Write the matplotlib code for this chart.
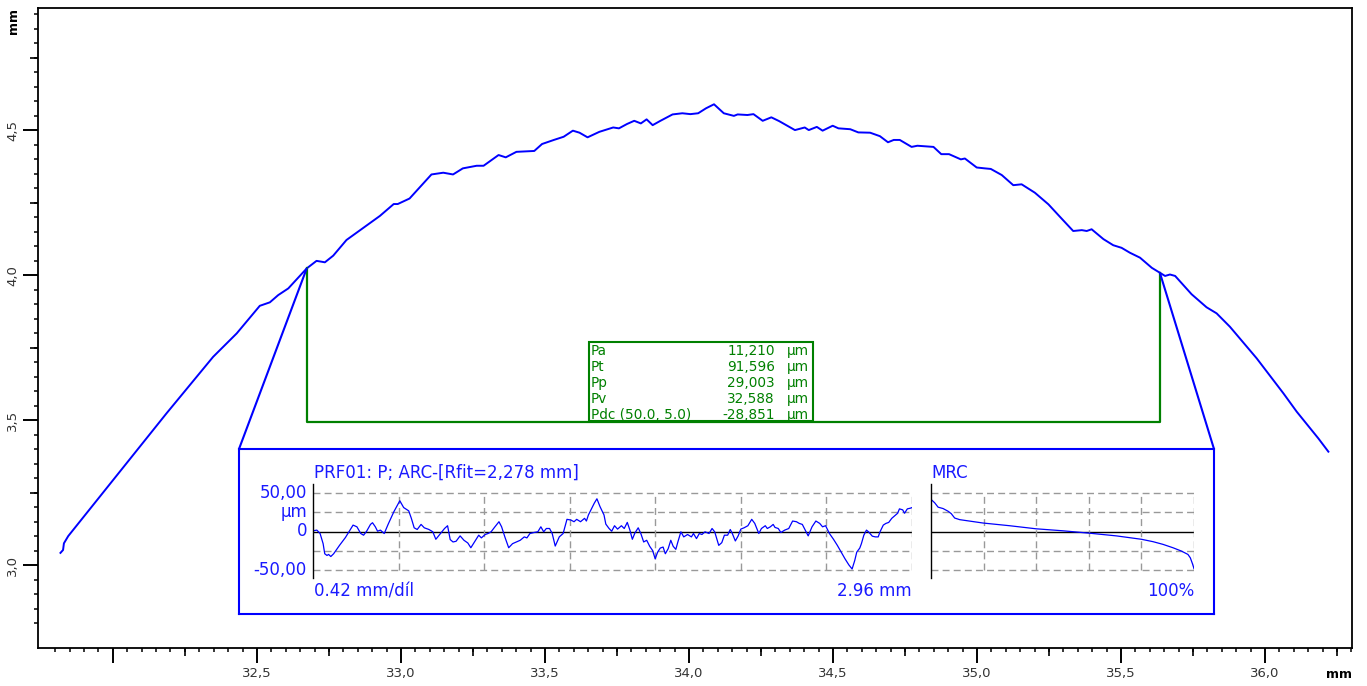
import matplotlib
matplotlib.use("Agg")
import matplotlib.pyplot as plt
from matplotlib.patches import ConnectionPatch, Rectangle
from matplotlib.ticker import FixedLocator, FuncFormatter
import numpy as np

BLUE = "#0000ff"
TXT_BLUE = "#1a1aff"
GREEN = "#008000"
GRID = "#999999"

# primary profile, mm
prof_x = [31.818, 31.827, 31.830, 31.845, 32.186, 32.348, 32.430, 32.510, 32.545, 32.574,
          32.609, 32.673, 32.707, 32.725, 32.736, 32.765, 32.811, 32.927, 32.975, 32.989,
          33.030, 33.106, 33.147, 33.181, 33.215, 33.263, 33.287, 33.339, 33.364, 33.401,
          33.463, 33.490, 33.531, 33.565, 33.597, 33.620, 33.648, 33.689, 33.737, 33.757,
          33.785, 33.810, 33.833, 33.853, 33.874, 33.901, 33.943, 33.977, 34.005, 34.032,
          34.059, 34.087, 34.121, 34.156, 34.169, 34.203, 34.224, 34.256, 34.286, 34.313,
          34.368, 34.402, 34.416, 34.444, 34.464, 34.499, 34.519, 34.560, 34.588, 34.629,
          34.663, 34.691, 34.711, 34.732, 34.773, 34.793, 34.849, 34.876, 34.903, 34.944,
          34.958, 34.999, 35.027, 35.048, 35.086, 35.126, 35.155, 35.201, 35.248, 35.288,
          35.334, 35.364, 35.381, 35.398, 35.439, 35.473, 35.502, 35.531, 35.566, 35.607,
          35.635, 35.653, 35.670, 35.688, 35.745, 35.797, 35.832, 35.878, 35.971, 36.064,
          36.110, 36.185, 36.220]
prof_y = [3.042, 3.052, 3.075, 3.100, 3.523, 3.718, 3.799, 3.894, 3.906, 3.931,
          3.954, 4.023, 4.049, 4.046, 4.044, 4.067, 4.121, 4.204, 4.245, 4.245,
          4.264, 4.347, 4.353, 4.347, 4.368, 4.377, 4.377, 4.414, 4.406, 4.425,
          4.428, 4.452, 4.466, 4.477, 4.498, 4.491, 4.475, 4.494, 4.509, 4.506,
          4.521, 4.532, 4.523, 4.537, 4.517, 4.532, 4.554, 4.558, 4.555, 4.558,
          4.575, 4.589, 4.558, 4.549, 4.554, 4.552, 4.555, 4.532, 4.544, 4.531,
          4.500, 4.509, 4.500, 4.511, 4.498, 4.515, 4.506, 4.503, 4.492, 4.491,
          4.479, 4.458, 4.466, 4.466, 4.442, 4.446, 4.442, 4.417, 4.417, 4.399,
          4.402, 4.371, 4.368, 4.366, 4.345, 4.310, 4.313, 4.284, 4.244, 4.201,
          4.152, 4.155, 4.152, 4.158, 4.124, 4.103, 4.094, 4.077, 4.060, 4.025,
          4.008, 3.997, 4.002, 3.997, 3.934, 3.889, 3.868, 3.822, 3.713, 3.592,
          3.529, 3.437, 3.391]

# evaluation window (green)
eval_x = [32.673, 32.673, 35.635, 35.635]
eval_y = [4.023, 3.495, 3.495, 4.008]

par_names = ["Pa", "Pt", "Pp", "Pv", "Pdc (50.0, 5.0)"]
par_values = ["11,210", "91,596", "29,003", "32,588", "-28,851"]
par_unit = "µm"

# filtered profile in the inset: mm / µm
rough_x = [0.000, 0.019, 0.035, 0.050, 0.058, 0.069, 0.077, 0.088, 0.102, 0.131,
           0.160, 0.188, 0.198, 0.217, 0.236, 0.250, 0.265, 0.284, 0.294, 0.308,
           0.319, 0.333, 0.352, 0.371, 0.400, 0.429, 0.448, 0.473, 0.486, 0.500,
           0.515, 0.534, 0.550, 0.573, 0.592, 0.607, 0.630, 0.650, 0.665, 0.678,
           0.692, 0.707, 0.727, 0.746, 0.765, 0.780, 0.800, 0.819, 0.832, 0.851,
           0.865, 0.880, 0.899, 0.919, 0.932, 0.948, 0.967, 0.986, 1.005, 1.024,
           1.044, 1.057, 1.072, 1.092, 1.111, 1.126, 1.140, 1.153, 1.169, 1.182,
           1.197, 1.217, 1.236, 1.255, 1.274, 1.290, 1.303, 1.322, 1.342, 1.351,
           1.361, 1.376, 1.390, 1.403, 1.418, 1.438, 1.447, 1.463, 1.476, 1.490,
           1.505, 1.524, 1.538, 1.553, 1.566, 1.578, 1.591, 1.607, 1.620, 1.634,
           1.649, 1.664, 1.678, 1.691, 1.703, 1.716, 1.730, 1.741, 1.755, 1.768,
           1.780, 1.793, 1.803, 1.818, 1.832, 1.851, 1.870, 1.880, 1.895, 1.909,
           1.922, 1.937, 1.957, 1.972, 1.985, 2.005, 2.020, 2.033, 2.049, 2.062,
           2.072, 2.087, 2.101, 2.114, 2.130, 2.149, 2.168, 2.183, 2.203, 2.216,
           2.235, 2.245, 2.260, 2.274, 2.283, 2.299, 2.312, 2.331, 2.351, 2.370,
           2.389, 2.403, 2.418, 2.437, 2.447, 2.466, 2.485, 2.504, 2.518, 2.533,
           2.552, 2.572, 2.591, 2.610, 2.629, 2.648, 2.664, 2.677, 2.687, 2.702,
           2.710, 2.722, 2.735, 2.745, 2.764, 2.779, 2.793, 2.802, 2.818, 2.831,
           2.845, 2.860, 2.875, 2.889, 2.898, 2.914, 2.923, 2.937, 2.952, 2.960]
rough_y = [0.9, 1.8, -2.6, -15.8, -28.9, -31.1, -29.8, -32.5, -28.9, -18.0,
           -7.9, 3.9, 8.3, 6.1, -2.6, -4.8, 0.4, 9.2, 11.4, 6.1,
           0.4, 1.8, -2.6, 9.2, 25.9, 39.9, 31.1, 26.8, 17.1, 4.8,
           2.6, 9.2, 4.8, 2.6, -0.4, -10.1, -2.6, 3.9, 7.5, -10.5,
           -13.6, -12.7, -5.7, -11.4, -14.9, -21.1, -12.7, -4.8, -8.3, -3.9,
           -2.6, -0.4, 6.1, 12.7, 6.1, -7.0, -21.1, -15.8, -13.6, -11.4,
           -7.0, -8.3, -2.6, -1.3, -0.4, 6.1, -0.4, 3.9, 3.9, -2.6,
           -18.9, -7.0, -2.6, 15.8, 14.9, 12.7, 15.8, 12.7, 17.1, 13.6,
           21.5, 29.4, 36.8, 42.5, 32.5, 21.5, 9.6, 3.9, 0.4, 7.5,
           3.1, 7.5, 3.9, 11.8, 1.8, -10.1, -1.8, 4.8, -2.6, -13.6,
           -11.4, -19.3, -24.6, -35.5, -26.8, -21.5, -20.2, -28.9, -22.4, -11.4,
           -19.3, -23.2, -13.6, -0.4, -7.0, -3.9, -7.0, -2.6, -9.2, -2.6,
           -3.9, -0.4, -2.6, 3.9, -0.4, -18.0, -14.5, -4.8, -4.8, 2.6,
           -2.6, -12.3, -5.7, 3.1, 4.8, 7.5, 15.8, 10.5, -2.6, 3.9,
           7.5, 3.9, 6.1, 9.2, 5.3, 3.9, -1.3, 1.8, 3.9, 13.6,
           12.7, 10.5, 9.2, -0.4, -5.7, 6.1, 13.6, 10.5, 6.1, 7.5,
           -2.6, -10.1, -18.0, -26.8, -35.5, -43.4, -48.7, -37.7, -26.8, -21.5,
           -15.8, -4.8, 1.8, -0.4, -6.1, -7.0, -7.0, -0.4, 8.3, 10.5,
           11.8, 17.1, 20.6, 23.7, 29.4, 28.1, 23.7, 29.4, 30.3, 31.1]

# material ratio curve: % / µm
mrc_pct = [0.0, 1.4, 2.7, 4.6, 6.5, 7.7, 9.0, 10.9, 19.8, 29.9, 40.0, 50.2,
           60.3, 70.5, 80.0, 84.4, 88.2, 92.0, 95.2, 97.7, 98.6, 99.4, 100.0]
mrc_um = [41.7, 37.3, 31.6, 29.8, 26.3, 23.2, 17.5, 15.4, 11.0, 7.5, 3.5, 0.9,
          -2.2, -5.7, -10.1, -13.2, -16.7, -21.1, -25.4, -29.8, -34.2, -41.7, -48.2]

W, H = 1367, 686
fig = plt.figure(figsize=(W / 100, H / 100), dpi=100)


def fx(px):
    return px / W


def fy(py):
    return 1 - py / H


# main axes
ax = fig.add_axes([fx(38), fy(648), fx(1352) - fx(38), fy(8) - fy(648)])
ax.plot(prof_x, prof_y, color=BLUE, lw=1.4)
ax.plot(eval_x, eval_y, color=GREEN, lw=1.6)
ax.set_xlim(31.74, 36.302)
ax.set_ylim(2.714, 4.921)

for s in ax.spines.values():
    s.set_linewidth(1.3)


def comma_fmt(v, pos):
    if abs(v - 32.0) < 1e-6:
        return ""
    return f"{v:.1f}".replace(".", ",")


ax.xaxis.set_major_locator(FixedLocator(np.arange(32.0, 36.01, 0.5)))
ax.xaxis.set_minor_locator(FixedLocator(np.round(np.arange(31.8, 36.31, 0.05), 2)))
ax.yaxis.set_major_locator(FixedLocator(np.arange(3.0, 4.51, 0.5)))
ax.yaxis.set_minor_locator(FixedLocator(np.round(np.arange(2.8, 4.91, 0.05), 2)))
ax.xaxis.set_major_formatter(FuncFormatter(comma_fmt))
ax.yaxis.set_major_formatter(FuncFormatter(comma_fmt))
ax.tick_params(which="major", length=10.5, width=1.4, pad=3, labelsize=9.5,
               labelcolor="#333333")
ax.tick_params(which="minor", length=2.6, width=1.1)
ax.tick_params(axis="y", labelrotation=90)
for t in ax.get_yticklabels():
    t.set_va("center")

# medium ticks at the quarter marks
secx = ax.secondary_xaxis("bottom")
secx.set_xticks(np.arange(32.25, 36.3, 0.5))
secx.tick_params(length=6, width=1.2, labelbottom=False)
secx.spines["bottom"].set_visible(False)
secy = ax.secondary_yaxis("left")
secy.set_yticks(np.arange(3.25, 4.8, 0.5))
secy.tick_params(length=6, width=1.2, labelleft=False)
secy.spines["left"].set_visible(False)

fig.text(fx(1352), fy(675), "mm", ha="right", va="center", fontsize=9,
         fontweight="bold")
fig.text(fx(14), fy(21), "mm", ha="center", va="center", rotation=90,
         fontsize=9, fontweight="bold")

# parameter table
fig.patches.append(Rectangle((fx(589), fy(421)), fx(813) - fx(589),
                             fy(342) - fy(421), transform=fig.transFigure,
                             fill=False, ec=GREEN, lw=1.5))
row_y = [351, 367, 383, 399, 415]
tfs = 9.8
for name, val, ry in zip(par_names, par_values, row_y):
    fig.text(fx(591), fy(ry), name, color=GREEN, fontsize=tfs, va="center")
    fig.text(fx(775), fy(ry), val, color=GREEN, fontsize=tfs, va="center",
             ha="right")
    fig.text(fx(787), fy(ry), par_unit, color=GREEN, fontsize=tfs, va="center")

# inset frame
ins = fig.add_axes([fx(239), fy(614), fx(1214) - fx(239), fy(449) - fy(614)])
ins.set_xticks([])
ins.set_yticks([])
for s in ins.spines.values():
    s.set_color(BLUE)
    s.set_linewidth(1.5)

for xa, corner in [(eval_x[0], (0, 1)), (eval_x[3], (1, 1))]:
    ya = eval_y[0] if corner[0] == 0 else eval_y[3]
    con = ConnectionPatch(xyA=(xa, ya), coordsA=ax.transData,
                          xyB=corner, coordsB=ins.transAxes,
                          color=BLUE, lw=1.5)
    fig.add_artist(con)

dash = (0, (5, 3))


def style_sub(a, xmax):
    a.set_xlim(0, xmax)
    a.set_ylim(-60.4, 61.7)
    a.patch.set_alpha(0)
    a.set_xticks([])
    a.set_yticks([])
    for k in ["top", "right", "bottom"]:
        a.spines[k].set_visible(False)
    a.spines["left"].set_linewidth(1.0)
    for yv in [-50, -25, 25, 50]:
        a.axhline(yv, color=GRID, lw=1.0, ls=dash)
    a.axhline(0, color="black", lw=1.0)


pa = fig.add_axes([fx(313), fy(578), fx(912) - fx(313), fy(484) - fy(578)])
style_sub(pa, 2.96)
pa.vlines(np.linspace(0, 2.96, 8)[1:], -50, 50, color=GRID, lw=1.0,
          linestyles=[dash])
pa.plot(rough_x, rough_y, color=BLUE, lw=0.9)

ma = fig.add_axes([fx(931), fy(578), fx(1194) - fx(931), fy(484) - fy(578)])
style_sub(ma, 100)
ma.vlines([20, 40, 60, 80, 100], -50, 50, color=GRID, lw=1.0,
          linestyles=[dash])
ma.plot(mrc_pct, mrc_um, color=BLUE, lw=0.9)

fs = 12
fig.text(fx(314), fy(473), "PRF01: P; ARC-[Rfit=2,278 mm]", color=TXT_BLUE,
         fontsize=fs, va="center")
fig.text(fx(931), fy(473), "MRC", color=TXT_BLUE, fontsize=fs, va="center")
fig.text(fx(307), fy(493), "50,00", color=TXT_BLUE, fontsize=fs, va="center",
         ha="right")
fig.text(fx(307), fy(512), "µm", color=TXT_BLUE, fontsize=fs, va="center",
         ha="right")
fig.text(fx(307), fy(531), "0", color=TXT_BLUE, fontsize=fs, va="center",
         ha="right")
fig.text(fx(307), fy(570), "-50,00", color=TXT_BLUE, fontsize=fs, va="center",
         ha="right")
fig.text(fx(314), fy(591), "0.42 mm/díl", color=TXT_BLUE, fontsize=fs,
         va="center")
fig.text(fx(912), fy(591), "2.96 mm", color=TXT_BLUE, fontsize=fs,
         va="center", ha="right")
fig.text(fx(1194), fy(591), "100%", color=TXT_BLUE, fontsize=fs, va="center",
         ha="right")

fig.savefig("out.png", dpi=100)
